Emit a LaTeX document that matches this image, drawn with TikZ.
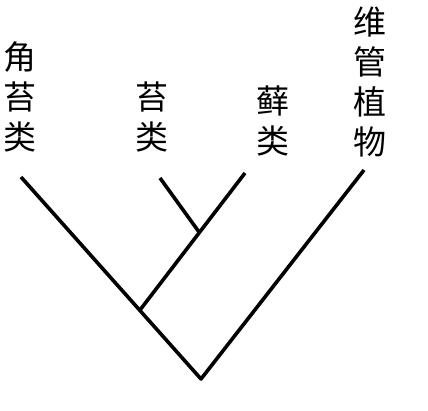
\documentclass[tikz,border=0pt]{standalone}
\usepackage{fontspec}
\newfontfamily\cjk{Noto Sans CJK SC}
\tikzset{
  taxon/.style={font=\cjk\fontsize{33}{40}\selectfont, align=center, inner sep=0pt},
  branch/.style={line width=3.6pt, line join=round}
}
\begin{document}
\begin{tikzpicture}[x=1pt,y=1pt]
\useasboundingbox (0,0) rectangle (428,410);
% labels
\node[taxon] (jiaotai) at (19.5,313) {角\\苔\\类};
\node[taxon] (taixian) at (152,293) {苔\\类};
\node[taxon] (xian) at (273,289) {藓\\类};
\node[taxon] (weiguan) at (370,328) {维\\管\\植\\物};

% tips and joints
\coordinate (root) at (201,31);
\coordinate (tipA) at (21,233);
\coordinate (tipB) at (160,232);
\coordinate (tipC) at (245,237);
\coordinate (tipD) at (364,240);
\coordinate (jA) at (140,100);
\coordinate (jB) at (199,178);

% branches
\draw[branch] (tipA) -- (root) -- (tipD);
\draw[branch] (jA) -- (tipC);
\draw[branch] (jB) -- (tipB);
\end{tikzpicture}
\end{document}
